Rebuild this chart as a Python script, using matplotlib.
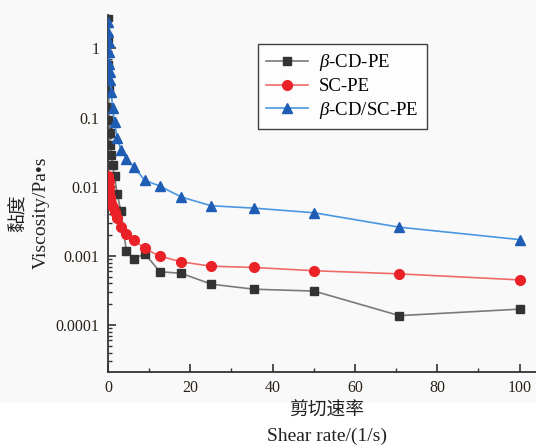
import matplotlib
matplotlib.use("Agg")
import matplotlib.pyplot as plt
from matplotlib.patches import Rectangle
from matplotlib.ticker import FixedLocator, LogLocator, NullFormatter, FixedFormatter

# ---- data ----
blue_x = [0.0708, 0.1, 0.141, 0.2, 0.282, 0.398, 0.562, 0.794, 1.12, 1.58, 2.24, 3.16,
          4.47, 6.31, 8.91, 12.6, 17.8, 25.1, 35.5, 50.1, 70.8, 100]
blue_y = [2.4, 1.72, 1.23, 0.88, 0.60, 0.455, 0.345, 0.234, 0.135, 0.086, 0.050, 0.034,
          0.0255, 0.0193, 0.0124, 0.0102, 0.0071, 0.0053, 0.0049, 0.0042, 0.0026, 0.00172]

black_x = [0.0501, 0.0708, 0.1, 0.141, 0.2, 0.282, 0.398, 0.562, 0.794, 1.12, 1.58, 2.24,
           3.16, 4.47, 6.31, 8.91, 12.6, 17.8, 25.1, 35.5, 50.1, 70.8, 100]
black_y = [2.8, 1.4, 0.57, 0.25, 0.14, 0.091, 0.059, 0.040, 0.029, 0.0205, 0.0142, 0.0078,
           0.0044, 0.00116, 0.00090, 0.00108, 0.00059, 0.00056, 0.00039, 0.00033, 0.00031,
           0.000137, 0.000170]

red_x = [0.1, 0.141, 0.2, 0.282, 0.398, 0.562, 0.794, 1.12, 1.58, 2.24, 3.16, 4.47, 6.31,
         8.91, 12.6, 17.8, 25.1, 35.5, 50.1, 70.8, 100]
red_y = [0.0145, 0.012, 0.0100, 0.0085, 0.0072, 0.0065, 0.0058, 0.0051, 0.0043, 0.0035,
         0.0026, 0.0021, 0.0017, 0.00128, 0.00099, 0.00082, 0.00071, 0.00068, 0.00061,
         0.00055, 0.00045]

series_labels = [r"$\beta$-CD-PE", "SC-PE", r"$\beta$-CD/SC-PE"]
y_ticks = [0.0001, 0.001, 0.01, 0.1, 1]
y_tick_labels = ["0.0001", "0.001", "0.01", "0.1", "1"]
x_ticks = [0, 20, 40, 60, 80, 100]

plt.rcParams['font.family'] = ['Liberation Serif', 'Noto Sans CJK SC']
plt.rcParams['mathtext.fontset'] = 'custom'
plt.rcParams['mathtext.it'] = 'Liberation Serif:italic'
plt.rcParams['mathtext.rm'] = 'Liberation Serif'

fig = plt.figure(figsize=(5.36, 4.48), dpi=100)
fig.patches.append(Rectangle((0, 1 - 403 / 448), 1, 403 / 448, transform=fig.transFigure,
                             facecolor='#f9f9f9', edgecolor='none', zorder=-10))

ax = fig.add_axes([108 / 536, 1 - 371.7 / 448, (536 - 108) / 536, (371.7 - 15) / 448])
ax.set_facecolor('none')

ax.plot(black_x, black_y, color='#7a7a7a', lw=1.2, marker='s', ms=6,
        mfc='#333333', mec='#333333', label=series_labels[0], zorder=3)
ax.plot(red_x, red_y, color='#f06a6a', lw=1.2, marker='o', ms=7,
        mfc='#ea2227', mec='#ea2227', label=series_labels[1], zorder=4)
ax.plot(blue_x, blue_y, color='#4a96e0', lw=1.2, marker='^', ms=7.5,
        mfc='#1f5db5', mec='#1f5db5', label=series_labels[2], zorder=5)

ax.set_yscale('log')
ax.set_ylim(2.12e-5, 3.03)
ax.set_xlim(0, 104)

ax.yaxis.set_major_locator(FixedLocator(y_ticks))
ax.yaxis.set_major_formatter(FixedFormatter(y_tick_labels))
ax.yaxis.set_minor_locator(LogLocator(base=10, subs=range(2, 10), numticks=20))
ax.yaxis.set_minor_formatter(NullFormatter())
ax.set_xticks(x_ticks)
ax.set_xticks([10, 30, 50, 70, 90], minor=True)

for s in ['top', 'right']:
    ax.spines[s].set_visible(False)
for s in ['left', 'bottom']:
    ax.spines[s].set_color('#333333')
    ax.spines[s].set_linewidth(1.3)

ax.tick_params(which='major', direction='in', length=6, width=1.2, color='#333333',
               labelsize=11.5, labelcolor='#2a2218', pad=6)
ax.tick_params(which='minor', direction='in', length=3, width=1.0, color='#333333')

leg = ax.legend(loc='upper left', bbox_to_anchor=((258 - 108) / 428, 1 - (44 - 15) / 356.7),
                frameon=True, fancybox=False, fontsize=13.5, handlelength=2.2,
                borderpad=0.45, labelspacing=0.25, handletextpad=0.6, borderaxespad=0)
leg.get_frame().set_edgecolor('#111111')
leg.get_frame().set_linewidth(1.0)
leg.get_frame().set_facecolor('white')

fig.text(327 / 536, 1 - 410 / 448, "剪切速率", ha='center', va='center', fontsize=13.5,
         family=['Noto Sans CJK SC'], color='#222222')
fig.text(327 / 536, 1 - 436 / 448, "Shear rate/(1/s)", ha='center', va='center',
         fontsize=14, color='#222222')
fig.text(18 / 536, 1 - 213 / 448, "黏度", ha='center', va='center', rotation=90,
         fontsize=13.5, family=['Noto Sans CJK SC'], color='#222222')
fig.text(41 / 536, 1 - 213 / 448, "Viscosity/Pa•s", ha='center', va='center', rotation=90,
         fontsize=14, color='#222222')

fig.savefig("out.png", dpi=100)
